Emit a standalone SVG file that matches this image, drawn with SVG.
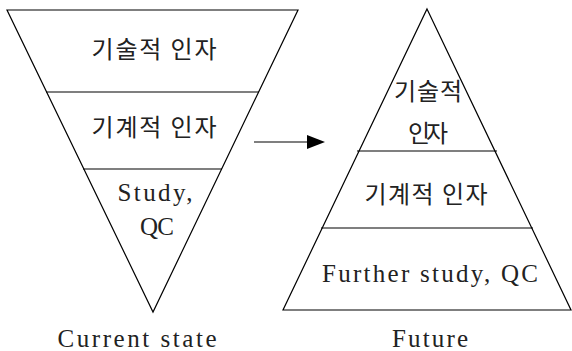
<svg xmlns="http://www.w3.org/2000/svg" width="572" height="351" viewBox="0 0 572 351">
<style>
.s{fill:none;stroke:#000;stroke-width:1.2}
.ko{font-family:"Noto Sans CJK KR",sans-serif;font-size:24px;fill:#222;text-anchor:middle}
.en{font-family:"Liberation Serif",serif;font-size:25px;fill:#222;text-anchor:middle}
</style>
<rect width="572" height="351" fill="#fff"/>
<g id="current">
<polygon class="s" points="7,10 298,10 153,312"/>
<line class="s" x1="46" y1="92" x2="259" y2="92"/>
<line class="s" x1="83" y1="169" x2="222" y2="169"/>
</g>
<g id="current-tech"><text class="ko" x="154" y="58" textLength="125" lengthAdjust="spacing">기술적 인자</text></g>
<g id="current-mech"><text class="ko" x="154" y="136" textLength="125" lengthAdjust="spacing">기계적 인자</text></g>
<g id="current-study"><text class="en" x="155" y="201" textLength="75" lengthAdjust="spacing">Study,</text><text class="en" x="157" y="235" textLength="34" lengthAdjust="spacing">QC</text></g>
<g id="current-label"><text class="en" x="137" y="347" textLength="159" lengthAdjust="spacing">Current state</text></g>
<g id="future">
<polygon class="s" points="427,9 571,310 283,310"/>
<line class="s" x1="357" y1="151" x2="497" y2="151"/>
<line class="s" x1="321" y1="228" x2="533" y2="228"/>
</g>
<g id="future-tech"><text class="ko" x="428" y="100" textLength="68" lengthAdjust="spacing">기술적</text><text class="ko" x="428" y="142" textLength="40" lengthAdjust="spacing">인자</text></g>
<g id="future-mech"><text class="ko" x="426" y="203" textLength="123" lengthAdjust="spacing">기계적 인자</text></g>
<g id="future-study"><text class="en" x="430" y="282" textLength="216" lengthAdjust="spacing">Further study, QC</text></g>
<g id="future-label"><text class="en" x="430" y="347" textLength="76" lengthAdjust="spacing">Future</text></g>
<g id="connectors">
<line class="s" x1="254" y1="142" x2="309" y2="142"/>
<polygon points="307,135 325,142 307,149" fill="#000"/>
</g>
</svg>
